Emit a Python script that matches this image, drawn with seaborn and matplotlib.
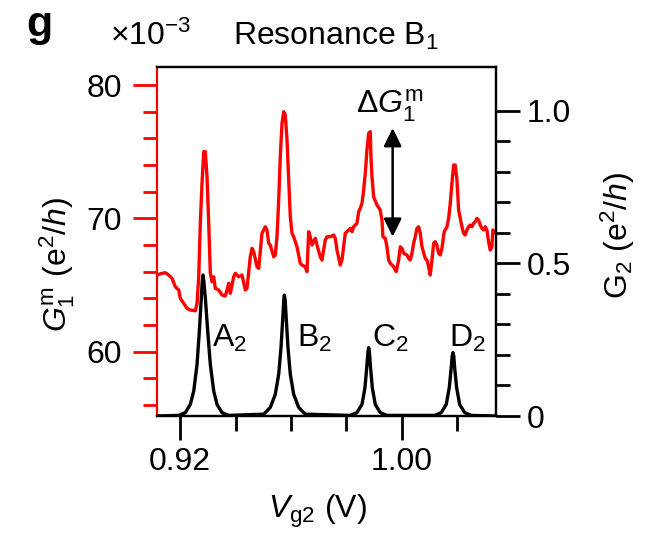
import matplotlib
matplotlib.use("Agg")
import matplotlib.pyplot as plt
import seaborn as sns
from matplotlib.ticker import FixedLocator, MultipleLocator

sns.set_theme(style="ticks")
plt.rcParams["font.family"] = ["Liberation Sans", "DejaVu Sans"]
plt.rcParams["mathtext.fontset"] = "custom"
plt.rcParams["mathtext.rm"] = "Liberation Sans"
plt.rcParams["mathtext.it"] = "Liberation Sans:italic"
plt.rcParams["mathtext.bf"] = "Liberation Sans:bold"
for key in ("text.color", "axes.labelcolor", "xtick.color", "ytick.color"):
    plt.rcParams[key] = "black"

# Modulated conductance of dot 1 (units of 1e-3 e^2/h) vs gate voltage Vg2 (V)
vg2_g1m = [
    0.91171, 0.91351, 0.91470, 0.91593, 0.91712, 0.91831, 0.91953, 0.92011, 0.92133, 0.92252,
    0.92371, 0.92551, 0.92613, 0.92674, 0.92732, 0.92793, 0.92854, 0.92912, 0.92973, 0.93034,
    0.93092, 0.93153, 0.93214, 0.93272, 0.93395, 0.93514, 0.93632, 0.93694, 0.93755, 0.93813,
    0.93935, 0.93993, 0.94115, 0.94234, 0.94353, 0.94414, 0.94533, 0.94595, 0.94656, 0.94775,
    0.94836, 0.94955, 0.95074, 0.95135, 0.95196, 0.95254, 0.95377, 0.95434, 0.95495, 0.95557,
    0.95614, 0.95676, 0.95737, 0.95795, 0.95856, 0.95917, 0.95975, 0.96036, 0.96097, 0.96155,
    0.96216, 0.96277, 0.96335, 0.96396, 0.96515, 0.96577, 0.96638, 0.96695, 0.96757, 0.96818,
    0.96876, 0.96937, 0.97056, 0.97117, 0.97236, 0.97297, 0.97416, 0.97539, 0.97597, 0.97658,
    0.97776, 0.97838, 0.97899, 0.97957, 0.98079, 0.98137, 0.98198, 0.98259, 0.98378, 0.98440,
    0.98497, 0.98559, 0.98620, 0.98678, 0.98739, 0.98800, 0.98858, 0.98883, 0.98919, 0.98980,
    0.99099, 0.99218, 0.99279, 0.99315, 0.99398, 0.99459, 0.99521, 0.99578, 0.99701, 0.99794,
    0.99881, 0.99939, 1.00000, 1.00061, 1.00180, 1.00241, 1.00299, 1.00360, 1.00421, 1.00479,
    1.00541, 1.00602, 1.00660, 1.00721, 1.00840, 1.00901, 1.00962, 1.01020, 1.01081, 1.01142,
    1.01200, 1.01261, 1.01323, 1.01380, 1.01441, 1.01524, 1.01622, 1.01683, 1.01741, 1.01802,
    1.01863, 1.01921, 1.01982, 1.02043, 1.02101, 1.02162, 1.02223, 1.02281, 1.02342, 1.02403,
    1.02461, 1.02523, 1.02584, 1.02642, 1.02703, 1.02764, 1.02822, 1.02883, 1.02944, 1.03002,
    1.03063, 1.03124, 1.03182, 1.03243, 1.03279, 1.03326, 1.03387,
]
g1m = [
    65.75, 65.88, 65.92, 65.75, 65.50, 64.87, 64.63, 64.00, 63.63, 63.25,
    63.13, 63.07, 63.63, 65.62, 69.63, 72.63, 75.00, 75.00, 73.12, 69.63,
    65.88, 65.25, 65.62, 64.75, 64.63, 64.25, 64.18, 64.63, 65.13, 64.38,
    65.62, 65.88, 65.62, 65.75, 64.63, 64.75, 67.12, 67.75, 67.50, 66.37,
    66.25, 68.88, 69.37, 69.13, 68.13, 68.00, 67.12, 67.25, 68.62, 71.37,
    74.62, 77.13, 78.00, 77.75, 75.87, 72.87, 70.12, 68.88, 68.62, 68.25,
    67.87, 67.25, 66.63, 66.50, 66.37, 66.00, 69.00, 68.62, 68.00, 68.25,
    68.50, 68.00, 67.12, 66.87, 68.37, 68.62, 68.62, 68.75, 68.50, 67.62,
    66.50, 66.87, 67.87, 68.88, 69.13, 69.25, 69.00, 69.37, 69.63, 70.50,
    70.75, 71.13, 72.13, 73.38, 75.13, 76.38, 76.50, 74.62, 73.12, 71.62,
    71.00, 70.62, 69.87, 68.62, 68.50, 67.87, 66.87, 66.63, 66.37, 66.00,
    66.87, 67.87, 67.75, 67.38, 67.25, 67.00, 66.87, 67.38, 68.13, 68.62,
    69.25, 69.37, 68.88, 67.87, 67.00, 66.87, 66.37, 65.75, 66.87, 68.13,
    68.25, 68.00, 67.38, 67.25, 67.75, 69.00, 69.37, 70.00, 71.13, 72.63,
    74.00, 74.00, 72.87, 70.62, 70.00, 69.37, 68.88, 68.75, 69.13, 69.37,
    69.50, 69.37, 69.63, 69.75, 70.00, 69.87, 69.50, 69.25, 69.13, 69.37,
    69.13, 68.25, 67.62, 67.87, 69.13, 69.00, 68.88,
]

# Conductance of dot 2 (e^2/h) vs Vg2 (V): resonances A2, B2, C2, D2
vg2_g2 = [
    0.91170, 0.91950,
    0.92191, 0.92371, 0.92494, 0.92613, 0.92696, 0.92768, 0.92800, 0.92829,
    0.92860, 0.92912, 0.92998, 0.93092, 0.93214, 0.93333, 0.93514, 0.93755,
    0.95020, 0.95254, 0.95434, 0.95557, 0.95640, 0.95712, 0.95740, 0.95759,
    0.95790, 0.95820, 0.95892, 0.95975, 0.96097, 0.96277, 0.96515,
    0.98137, 0.98378, 0.98559, 0.98667, 0.98739, 0.98775, 0.98800, 0.98828,
    0.98858, 0.98930, 0.99038, 0.99218, 0.99459,
    1.01178, 1.01416, 1.01597, 1.01705, 1.01777, 1.01810, 1.01838, 1.01868,
    1.01899, 1.01971, 1.02079, 1.02260, 1.02497,
    1.03390,
]
g2 = [
    0.000, 0.002,
    0.011, 0.038, 0.082, 0.169, 0.278, 0.388, 0.440, 0.462,
    0.440, 0.388, 0.278, 0.169, 0.082, 0.038, 0.011, 0.002,
    0.006, 0.028, 0.071, 0.137, 0.224, 0.333, 0.380, 0.396,
    0.380, 0.333, 0.224, 0.137, 0.071, 0.028, 0.006,
    0.002, 0.011, 0.038, 0.093, 0.169, 0.210, 0.224, 0.210,
    0.169, 0.093, 0.038, 0.011, 0.002,
    0.002, 0.011, 0.038, 0.093, 0.159, 0.196, 0.208, 0.196,
    0.159, 0.093, 0.038, 0.011, 0.002,
    0.000,
]

peak_names = ["A$_2$", "B$_2$", "C$_2$", "D$_2$"]
peak_label_x = [0.93153, 0.96216, 0.98919, 1.01683]
peak_label_y = 0.228

x_major = [0.92, 1.00]
x_minor = [0.94, 0.96, 0.98, 1.02]
x_labels = ["0.92", "1.00"]

FS = 23
RED = "#ff0000"

fig = plt.figure(figsize=(6.58, 5.33), dpi=100)
ax = fig.add_axes([157 / 658, 117 / 533, 339 / 658, 349 / 533])

sns.lineplot(x=vg2_g1m, y=g1m, ax=ax, color=RED, lw=2.4, estimator=None, sort=False)
ax.set_xlim(0.9117, 1.0339)
ax.set_ylim(55.18, 81.35)

ax2 = ax.twinx()
sns.lineplot(x=vg2_g2, y=g2, ax=ax2, color="black", lw=2.4, estimator=None, sort=False)
ax2.set_ylim(0, 1.144)
ax2.set_xlim(0.9117, 1.0339)

# spines
for s in ax.spines.values():
    s.set_linewidth(1.6)
    s.set_color("black")
ax.spines["left"].set_color(RED)
for s in ax2.spines.values():
    s.set_linewidth(1.6)
    s.set_color("black")
ax2.spines["left"].set_visible(False)

# x axis
ax.xaxis.set_major_locator(FixedLocator(x_major))
ax.xaxis.set_minor_locator(FixedLocator(x_minor))
ax.set_xticklabels(x_labels)
ax.tick_params(axis="x", which="major", direction="out", length=17, width=2,
               color="black", labelcolor="black", labelsize=FS, pad=5.5)
ax.tick_params(axis="x", which="minor", direction="out", length=11, width=2, color="black")

# left axis (red ticks)
ax.yaxis.set_major_locator(FixedLocator([60, 70, 80]))
ax.yaxis.set_minor_locator(MultipleLocator(2))
ax.tick_params(axis="y", which="major", direction="out", length=17, width=2,
               color=RED, labelcolor="black", labelsize=FS, pad=8)
ax.tick_params(axis="y", which="minor", direction="out", length=10, width=2, color=RED)

# right axis
ax2.yaxis.set_major_locator(FixedLocator([0, 0.5, 1.0]))
ax2.yaxis.set_minor_locator(FixedLocator([0.1, 0.2, 0.3, 0.4, 0.6, 0.7, 0.8, 0.9]))
ax2.set_yticklabels(["0", "0.5", "1.0"])
ax2.tick_params(axis="y", which="major", direction="out", length=17, width=2,
                color="black", labelcolor="black", labelsize=FS, pad=5)
ax2.tick_params(axis="y", which="minor", direction="out", length=10, width=2, color="black")
ax2.tick_params(axis="x", which="both", bottom=False, top=False, labelbottom=False)

ax.set_xlabel("")
ax.set_ylabel("")
ax2.set_ylabel("")

# axis titles
fig.text(317 / 658, 1 - 518 / 533, r"$V_{\mathrm{g2}}$ (V)", fontsize=FS,
         ha="center", va="baseline")
fig.text(57 / 658, 1 - 265 / 533, r"$G_1^{\mathrm{m}}$ (e$^2$/$h$)", fontsize=FS,
         rotation=90, ha="center", va="center")
fig.text(618 / 658, 1 - 236 / 533, r"G$_2$ (e$^2$/$h$)", fontsize=FS,
         rotation=90, ha="center", va="center")

# header texts
fig.text(26 / 658, 1 - 36 / 533, "g", fontsize=31, fontweight="bold", ha="left", va="baseline")
fig.text(110 / 658, 1 - 45 / 533, "×10$^{-3}$", fontsize=FS, ha="left", va="baseline")
fig.text(233 / 658, 1 - 45 / 533, "Resonance B$_1$", fontsize=FS, ha="left", va="baseline")

# peak labels
for name, px in zip(peak_names, peak_label_x):
    ax2.text(px, peak_label_y, name, fontsize=FS, ha="left", va="baseline")

# amplitude marker
ax.annotate("", xy=(0.99665, 76.77), xytext=(0.99665, 68.62),
            arrowprops=dict(arrowstyle="<|-|>,head_length=0.55,head_width=0.27",
                            color="black", lw=1.8, shrinkA=0, shrinkB=0,
                            mutation_scale=20))
ax.text(0.99568, 77.9, r"Δ$G_1^{\mathrm{m}}$", fontsize=FS, ha="center", va="baseline")

fig.savefig("out.png", dpi=100)
